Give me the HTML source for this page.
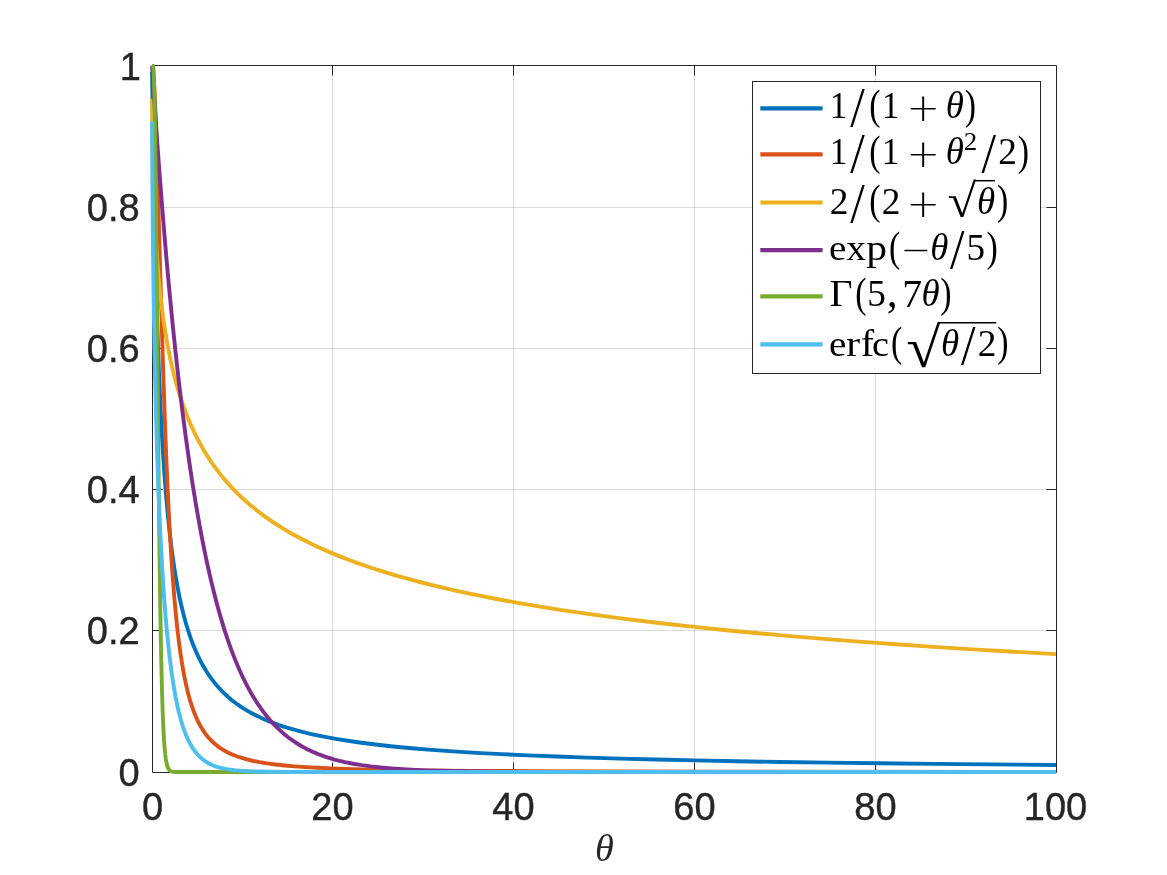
<!DOCTYPE html>
<html lang="en"><head><meta charset="utf-8"><title>Completely monotone functions of theta</title>
<style>html,body{margin:0;padding:0;background:#fff}svg{display:block}.tk{font-family:"Liberation Sans",sans-serif;font-size:38px;fill:#262626;stroke:#262626;stroke-width:.4px}.m{font-family:"Liberation Serif",serif;fill:#000}.i{font-style:italic}.x{font-family:"DejaVu Sans",sans-serif;font-weight:200}</style></head><body>
<svg width="1167" height="875" viewBox="0 0 1167 875">
<rect x="0" y="0" width="1167" height="875" fill="#fff"/>
<path d="M332.5 65.5 V772.5 M513.5 65.5 V772.5 M694.5 65.5 V772.5 M875.5 65.5 V772.5 M152.5 630.5 H1056.5 M152.5 489.5 H1056.5 M152.5 348.5 H1056.5 M152.5 207.5 H1056.5" stroke="#262626" stroke-opacity="0.16" stroke-width="1" fill="none"/>
<path d="M152.50 65.50 H1056.50 V772.50 H152.50 Z M332.5 772.5 v-10.00 M332.5 65.5 v10.00 M513.5 772.5 v-10.00 M513.5 65.5 v10.00 M694.5 772.5 v-10.00 M694.5 65.5 v10.00 M875.5 772.5 v-10.00 M875.5 65.5 v10.00 M152.5 630.5 h10.00 M1056.5 630.5 h-10.00 M152.5 489.5 h10.00 M1056.5 489.5 h-10.00 M152.5 348.5 h10.00 M1056.5 348.5 h-10.00 M152.5 207.5 h10.00 M1056.5 207.5 h-10.00" stroke="#262626" stroke-width="1" fill="none" stroke-linecap="butt"/>
<clipPath id="plotclip"><rect x="140" y="64" width="916" height="720"/></clipPath>
<g fill="none" stroke-width="3.90" stroke-linejoin="round" stroke-linecap="butt" clip-path="url(#plotclip)">
<path d="M152.09 72.00 L152.72 117.37 L153.45 162.52 L154.26 206.40 L155.07 244.39 L155.98 281.03 L156.97 315.87 L158.06 348.65 L159.14 377.03 L160.32 403.77 L161.67 430.45 L163.03 453.53 L164.57 476.18 L166.19 496.90 L167.91 515.84 L169.81 533.95 L171.80 550.37 L173.97 565.88 L175.14 573.40 L176.32 580.40 L177.49 586.92 L178.76 593.46 L180.11 599.98 L181.47 606.04 L182.92 612.05 L184.36 617.63 L185.90 623.16 L187.44 628.30 L189.06 633.37 L190.78 638.35 L192.50 642.99 L194.31 647.53 L196.21 651.97 L198.10 656.10 L200.18 660.31 L202.26 664.23 L204.43 668.03 L206.69 671.72 L209.04 675.28 L211.39 678.61 L213.92 681.94 L216.46 685.04 L219.17 688.13 L221.97 691.11 L224.86 693.96 L227.94 696.79 L231.01 699.41 L234.26 702.00 L237.61 704.47 L241.04 706.84 L244.66 709.16 L248.37 711.37 L252.25 713.52 L256.23 715.58 L260.39 717.57 L264.73 719.51 L269.16 721.36 L273.77 723.14 L278.56 724.87 L283.53 726.53 L288.68 728.14 L294.02 729.69 L299.53 731.18 L305.32 732.63 L311.28 734.03 L317.43 735.37 L323.85 736.67 L330.45 737.91 L337.32 739.12 L344.46 740.28 L359.47 742.48 L375.65 744.53 L393.01 746.44 L411.63 748.21 L431.70 749.86 L453.21 751.40 L476.36 752.83 L501.22 754.16 L527.97 755.40 L556.72 756.55 L587.55 757.62 L620.72 758.62 L656.43 759.55 L694.76 760.42 L735.89 761.22 L780.10 761.97 L827.65 762.67 L878.73 763.31 L933.60 763.92 L1056.00 765.00" stroke="#0072BD"/>
<path d="M152.09 65.04 L152.27 65.32 L152.54 66.27 L152.99 69.25 L153.45 73.94 L153.90 80.25 L154.80 97.41 L155.80 122.30 L156.61 146.36 L157.51 175.90 L161.13 303.80 L162.94 363.81 L164.84 419.94 L165.83 446.26 L166.83 470.48 L167.82 492.69 L168.81 513.01 L169.81 531.56 L170.89 549.96 L171.98 566.60 L173.15 582.85 L174.33 597.45 L175.59 611.54 L177.13 626.65 L178.67 639.88 L180.39 652.77 L182.19 664.52 L184.09 675.17 L186.17 685.19 L187.26 689.84 L188.34 694.14 L189.52 698.44 L190.69 702.41 L191.87 706.07 L193.13 709.72 L194.49 713.30 L195.84 716.60 L197.29 719.82 L198.74 722.78 L200.27 725.66 L201.81 728.30 L203.44 730.87 L205.16 733.34 L206.96 735.71 L208.77 737.88 L210.67 739.95 L212.66 741.93 L214.74 743.81 L216.91 745.60 L218.90 747.09 L220.88 748.46 L222.96 749.78 L225.13 751.04 L227.39 752.24 L229.74 753.38 L232.18 754.47 L234.81 755.54 L237.43 756.51 L240.23 757.46 L246.11 759.19 L252.52 760.75 L259.58 762.15 L267.17 763.39 L275.49 764.50 L284.62 765.49 L294.56 766.36 L305.59 767.14 L317.70 767.82 L331.17 768.42 L346.18 768.95 L361.82 769.38 L379.08 769.77 L419.76 770.39 L470.57 770.86 L535.12 771.21 L616.75 771.47 L723.24 771.65 L1056.00 771.86" stroke="#D95319"/>
<path d="M152.09 98.67 L152.36 129.27 L152.72 152.60 L153.27 176.42 L154.08 201.74 L154.98 222.76 L156.07 242.57 L157.33 261.18 L158.78 278.63 L160.41 295.00 L161.31 302.99 L162.31 311.07 L163.30 318.51 L164.38 326.01 L165.56 333.52 L166.74 340.47 L168.00 347.43 L169.36 354.35 L170.71 360.80 L172.16 367.23 L173.70 373.60 L175.23 379.56 L176.86 385.48 L178.58 391.34 L180.39 397.13 L182.28 402.84 L184.27 408.45 L186.35 413.97 L188.52 419.38 L190.69 424.48 L192.95 429.49 L195.30 434.42 L197.74 439.25 L200.27 443.99 L202.90 448.63 L205.61 453.18 L208.41 457.64 L211.30 462.00 L214.29 466.26 L217.45 470.55 L220.61 474.63 L223.96 478.72 L227.39 482.71 L230.92 486.61 L234.54 490.42 L238.24 494.13 L242.04 497.75 L246.02 501.37 L250.08 504.90 L254.24 508.34 L258.58 511.77 L263.01 515.11 L267.53 518.36 L272.23 521.60 L277.02 524.75 L282.00 527.87 L287.33 531.08 L292.84 534.24 L298.45 537.31 L304.23 540.34 L310.20 543.32 L316.26 546.22 L322.49 549.07 L328.91 551.88 L335.51 554.65 L342.29 557.37 L349.25 560.04 L356.30 562.64 L363.54 565.19 L371.04 567.74 L378.63 570.20 L386.50 572.65 L394.54 575.06 L402.77 577.42 L411.18 579.74 L419.76 582.01 L428.62 584.26 L437.66 586.47 L446.88 588.63 L456.38 590.78 L475.99 594.95 L496.42 598.98 L517.85 602.89 L540.18 606.68 L563.59 610.36 L588.00 613.92 L613.49 617.38 L640.07 620.73 L667.73 623.99 L696.57 627.14 L726.58 630.21 L757.86 633.19 L790.31 636.08 L824.12 638.89 L859.20 641.61 L895.72 644.27 L933.60 646.85 L972.92 649.36 L1013.69 651.79 L1056.00 654.17" stroke="#EDB120"/>
<path d="M152.09 66.41 L154.80 107.50 L157.60 147.45 L160.41 185.00 L163.30 221.39 L166.28 256.55 L169.27 289.48 L172.43 322.10 L175.59 352.51 L178.85 381.66 L182.19 409.50 L185.63 436.03 L189.06 460.61 L192.59 483.98 L196.30 506.66 L200.09 528.03 L201.99 538.07 L203.98 548.14 L205.97 557.77 L207.96 567.00 L209.95 575.82 L212.03 584.64 L214.10 593.06 L216.27 601.45 L218.44 609.44 L220.61 617.06 L222.87 624.62 L225.13 631.81 L227.39 638.64 L229.74 645.40 L232.09 651.82 L234.54 658.13 L236.98 664.12 L239.51 669.99 L242.04 675.55 L244.66 680.98 L247.28 686.11 L249.99 691.11 L252.80 695.98 L255.60 700.55 L258.49 704.98 L261.38 709.13 L264.37 713.15 L267.44 717.02 L270.60 720.73 L273.86 724.30 L277.20 727.70 L280.55 730.86 L283.98 733.87 L287.51 736.73 L290.13 738.72 L292.84 740.66 L295.56 742.48 L298.36 744.26 L301.25 745.98 L304.14 747.59 L307.13 749.15 L310.11 750.61 L313.27 752.05 L316.44 753.40 L319.69 754.69 L323.04 755.93 L326.47 757.10 L330.00 758.22 L333.61 759.28 L337.32 760.28 L345.00 762.11 L353.14 763.74 L361.73 765.17 L370.95 766.43 L380.80 767.52 L391.47 768.46 L403.04 769.26 L415.61 769.93 L426.00 770.35 L437.21 770.71 L462.98 771.27 L494.44 771.64 L535.39 771.85 L645.86 771.99 L1056.00 772.00" stroke="#7E2F8E"/>
<path d="M152.09 65.00 L152.54 65.05 L152.81 65.35 L152.99 65.84 L153.18 66.74 L153.54 70.29 L153.81 75.08 L154.17 85.05 L154.44 95.59 L154.98 125.04 L155.44 157.76 L155.98 205.24 L158.24 439.14 L159.32 537.52 L159.86 578.85 L160.50 620.09 L161.13 654.14 L161.76 681.68 L162.49 706.27 L163.21 724.79 L164.02 739.93 L164.84 750.50 L165.29 754.88 L165.83 759.03 L166.37 762.22 L166.92 764.66 L167.55 766.77 L168.27 768.48 L169.09 769.76 L169.99 770.66 L170.62 771.06 L171.35 771.39 L172.16 771.62 L173.15 771.79 L175.59 771.95 L180.39 772.00 L1056.00 772.00" stroke="#77AC30"/>
<path d="M152.09 121.32 L152.27 162.22 L152.54 201.81 L152.90 240.46 L153.36 278.14 L153.90 314.74 L154.53 350.13 L155.25 384.21 L156.07 416.85 L156.97 447.97 L157.88 474.98 L158.96 503.19 L160.05 527.75 L161.31 552.72 L162.58 574.46 L163.93 594.83 L165.38 613.79 L166.83 630.37 L168.36 645.79 L169.99 660.05 L171.80 673.79 L173.61 685.67 L175.59 696.92 L177.67 707.00 L178.76 711.66 L179.93 716.31 L181.11 720.57 L182.28 724.49 L183.55 728.35 L184.82 731.88 L186.08 735.11 L187.44 738.27 L188.88 741.32 L190.33 744.09 L191.87 746.74 L193.40 749.13 L195.03 751.41 L196.75 753.55 L198.56 755.56 L200.36 757.35 L202.26 759.01 L204.25 760.54 L206.51 762.06 L208.95 763.46 L211.48 764.71 L214.10 765.80 L216.91 766.79 L219.98 767.69 L223.24 768.47 L226.76 769.15 L230.47 769.73 L234.44 770.21 L238.78 770.62 L243.48 770.96 L248.73 771.24 L254.60 771.47 L268.98 771.77 L292.21 771.94 L334.43 772.00 L1056.00 772.00" stroke="#4DBEEE"/>
</g>
<text class="tk" x="152.50" y="820.30" text-anchor="middle">0</text>
<text class="tk" x="332.50" y="820.30" text-anchor="middle">20</text>
<text class="tk" x="513.50" y="820.30" text-anchor="middle">40</text>
<text class="tk" x="694.50" y="820.30" text-anchor="middle">60</text>
<text class="tk" x="875.50" y="820.30" text-anchor="middle">80</text>
<text class="tk" x="1055.50" y="820.30" text-anchor="middle">100</text>
<text class="tk" x="139.60" y="785.60" text-anchor="end">0</text>
<text class="tk" x="139.60" y="643.60" text-anchor="end">0.2</text>
<text class="tk" x="139.60" y="502.60" text-anchor="end">0.4</text>
<text class="tk" x="139.60" y="361.60" text-anchor="end">0.6</text>
<text class="tk" x="139.60" y="220.60" text-anchor="end">0.8</text>
<text class="tk" x="140.90" y="79.80" text-anchor="end">1</text>
<text class="m i" x="594.89" y="861.03" font-size="38.36" style="fill:#262626">θ</text>
<rect x="752.50" y="81.50" width="288.00" height="292.00" fill="#fff" stroke="#262626" stroke-width="1"/>
<path d="M760.3 108.40 H822.6" stroke="#0072BD" stroke-width="4.17" fill="none"/>
<path d="M760.3 154.30 H822.6" stroke="#D95319" stroke-width="4.17" fill="none"/>
<path d="M760.3 202.50 H822.6" stroke="#EDB120" stroke-width="4.17" fill="none"/>
<path d="M760.3 250.20 H822.6" stroke="#7E2F8E" stroke-width="4.17" fill="none"/>
<path d="M760.3 296.30 H822.6" stroke="#77AC30" stroke-width="4.17" fill="none"/>
<path d="M760.3 344.30 H822.6" stroke="#4DBEEE" stroke-width="4.17" fill="none"/>
<text class="m" font-size="37.50"><tspan x="829.75" y="118.00" font-size="37.83" textLength="17.58" lengthAdjust="spacingAndGlyphs">1</tspan><tspan class="x" x="849.61" y="123.14" font-size="45.63" textLength="16.00" lengthAdjust="spacingAndGlyphs">/</tspan><tspan x="869.22" y="118.57" font-size="41.36" textLength="11.28" lengthAdjust="spacingAndGlyphs">(</tspan><tspan x="881.80" y="118.00" font-size="37.83" textLength="17.58" lengthAdjust="spacingAndGlyphs">1</tspan><tspan class="x" x="906.50" y="121.11" font-size="39.84">+</tspan><tspan class="i" x="945.86" y="118.04" font-size="37.87" textLength="18.16" lengthAdjust="spacingAndGlyphs">θ</tspan><tspan x="964.72" y="118.57" font-size="41.36" textLength="11.28" lengthAdjust="spacingAndGlyphs">)</tspan></text>
<text class="m" font-size="37.50"><tspan x="829.75" y="164.00" font-size="37.83" textLength="17.58" lengthAdjust="spacingAndGlyphs">1</tspan><tspan class="x" x="849.61" y="169.14" font-size="45.63" textLength="16.00" lengthAdjust="spacingAndGlyphs">/</tspan><tspan x="869.22" y="164.57" font-size="41.36" textLength="11.28" lengthAdjust="spacingAndGlyphs">(</tspan><tspan x="881.80" y="164.00" font-size="37.83" textLength="17.58" lengthAdjust="spacingAndGlyphs">1</tspan><tspan class="x" x="906.50" y="167.11" font-size="39.84">+</tspan><tspan class="i" x="945.86" y="164.04" font-size="37.87" textLength="18.16" lengthAdjust="spacingAndGlyphs">θ</tspan><tspan x="963.82" y="149.70" font-size="25.68" textLength="13.47" lengthAdjust="spacingAndGlyphs">2</tspan><tspan class="x" x="980.66" y="169.14" font-size="45.63" textLength="16.00" lengthAdjust="spacingAndGlyphs">/</tspan><tspan x="998.28" y="164.00" font-size="37.72" textLength="18.66" lengthAdjust="spacingAndGlyphs">2</tspan><tspan x="1017.85" y="164.57" font-size="41.36" textLength="11.28" lengthAdjust="spacingAndGlyphs">)</tspan></text>
<text class="m" font-size="37.50"><tspan x="829.73" y="213.50" font-size="37.72" textLength="18.66" lengthAdjust="spacingAndGlyphs">2</tspan><tspan class="x" x="849.61" y="218.64" font-size="45.63" textLength="16.00" lengthAdjust="spacingAndGlyphs">/</tspan><tspan x="869.22" y="214.07" font-size="41.36" textLength="11.28" lengthAdjust="spacingAndGlyphs">(</tspan><tspan x="881.78" y="213.50" font-size="37.72" textLength="18.66" lengthAdjust="spacingAndGlyphs">2</tspan><tspan class="x" x="906.50" y="216.61" font-size="39.84">+</tspan><tspan x="947.53" y="217.18" font-size="47.00" textLength="28.61" lengthAdjust="spacingAndGlyphs">√</tspan><tspan class="i" x="977.09" y="213.54" font-size="37.87" textLength="18.16" lengthAdjust="spacingAndGlyphs">θ</tspan><tspan x="997.08" y="214.07" font-size="41.36" textLength="11.28" lengthAdjust="spacingAndGlyphs">)</tspan></text>
<path d="M974.59 180.70 H994.91" stroke="#000" stroke-width="1.5" fill="none"/>
<text class="m" font-size="37.50"><tspan x="829.02" y="260.06" font-size="35.79" textLength="17.40" lengthAdjust="spacingAndGlyphs">e</tspan><tspan x="846.25" y="260.00" font-size="35.21" textLength="19.73" lengthAdjust="spacingAndGlyphs">x</tspan><tspan x="866.29" y="259.85" font-size="34.86" textLength="20.78" lengthAdjust="spacingAndGlyphs">p</tspan><tspan x="888.95" y="260.57" font-size="41.36" textLength="11.28" lengthAdjust="spacingAndGlyphs">(</tspan><tspan class="x" x="900.51" y="262.12" font-size="36.60">−</tspan><tspan class="i" x="930.18" y="260.04" font-size="37.87" textLength="18.16" lengthAdjust="spacingAndGlyphs">θ</tspan><tspan class="x" x="949.36" y="265.14" font-size="45.63" textLength="16.00" lengthAdjust="spacingAndGlyphs">/</tspan><tspan x="966.47" y="260.45" font-size="38.82" textLength="18.57" lengthAdjust="spacingAndGlyphs">5</tspan><tspan x="986.55" y="260.57" font-size="41.36" textLength="11.28" lengthAdjust="spacingAndGlyphs">)</tspan></text>
<text class="m" font-size="37.50"><tspan x="829.59" y="306.00" font-size="38.94" textLength="23.02" lengthAdjust="spacingAndGlyphs">Γ</tspan><tspan x="855.16" y="306.57" font-size="41.36" textLength="11.28" lengthAdjust="spacingAndGlyphs">(</tspan><tspan x="867.20" y="306.45" font-size="38.82" textLength="18.57" lengthAdjust="spacingAndGlyphs">5</tspan><tspan x="886.74" y="306.52" font-size="43.66">,</tspan><tspan x="902.36" y="306.82" font-size="39.97" textLength="19.85" lengthAdjust="spacingAndGlyphs">7</tspan><tspan class="i" x="921.40" y="306.04" font-size="37.87" textLength="18.16" lengthAdjust="spacingAndGlyphs">θ</tspan><tspan x="940.26" y="306.57" font-size="41.36" textLength="11.28" lengthAdjust="spacingAndGlyphs">)</tspan></text>
<text class="m" font-size="37.50"><tspan x="829.02" y="355.76" font-size="35.79" textLength="17.40" lengthAdjust="spacingAndGlyphs">e</tspan><tspan x="846.37" y="355.70" font-size="35.18" textLength="13.79" lengthAdjust="spacingAndGlyphs">r</tspan><tspan x="860.81" y="355.70" font-size="37.55" textLength="13.39" lengthAdjust="spacingAndGlyphs">f</tspan><tspan x="872.07" y="355.76" font-size="35.79" textLength="16.91" lengthAdjust="spacingAndGlyphs">c</tspan><tspan x="891.12" y="356.27" font-size="41.36" textLength="11.28" lengthAdjust="spacingAndGlyphs">(</tspan><tspan x="906.27" y="367.21" font-size="57.03" textLength="34.24" lengthAdjust="spacingAndGlyphs">√</tspan><tspan class="i" x="940.97" y="355.74" font-size="37.87" textLength="18.16" lengthAdjust="spacingAndGlyphs">θ</tspan><tspan class="x" x="960.15" y="360.84" font-size="45.63" textLength="16.00" lengthAdjust="spacingAndGlyphs">/</tspan><tspan x="977.77" y="355.70" font-size="37.72" textLength="18.66" lengthAdjust="spacingAndGlyphs">2</tspan><tspan x="997.33" y="356.27" font-size="41.36" textLength="11.28" lengthAdjust="spacingAndGlyphs">)</tspan></text>
<path d="M938.95 322.80 H996.30" stroke="#000" stroke-width="1.5" fill="none"/>
</svg></body></html>
